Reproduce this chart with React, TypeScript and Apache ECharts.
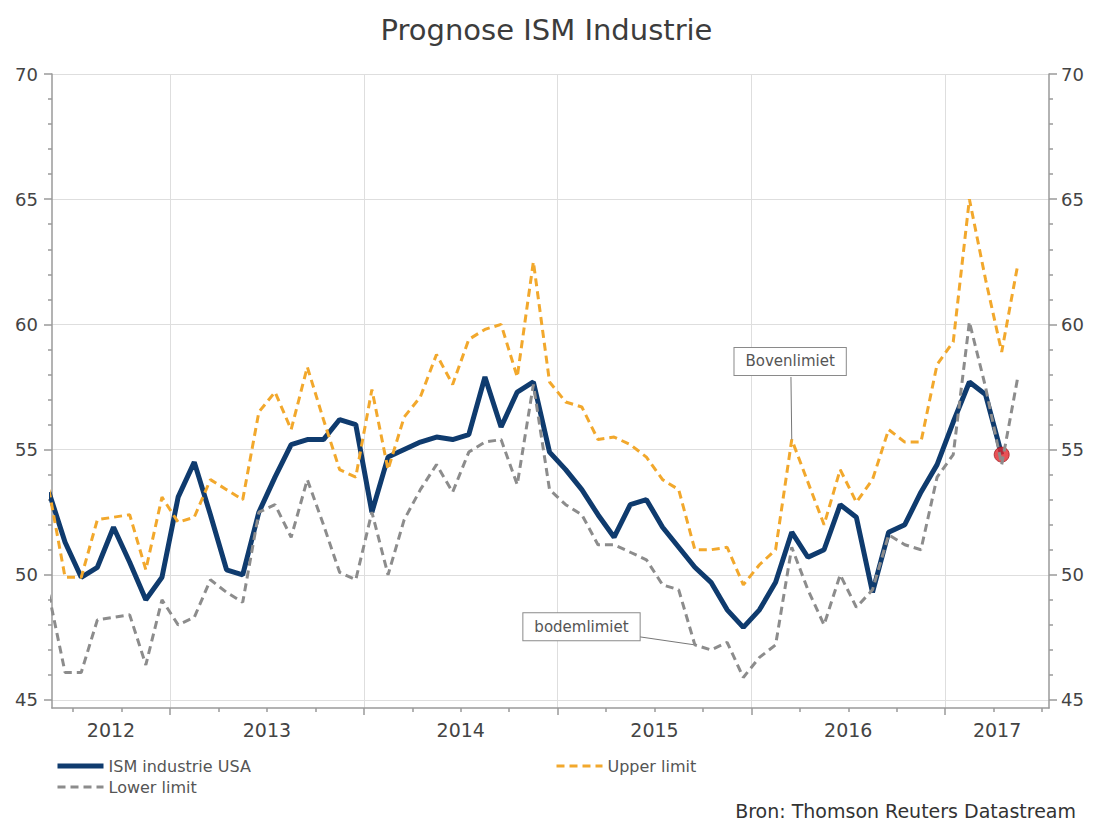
import React, { useEffect, useRef } from 'react';
import * as echarts from 'echarts';

// Monthly observations, May 2012 – May 2017
const months = [
  '2012-05', '2012-06', '2012-07', '2012-08', '2012-09', '2012-10', '2012-11', '2012-12',
  '2013-01', '2013-02', '2013-03', '2013-04', '2013-05', '2013-06', '2013-07', '2013-08', '2013-09', '2013-10', '2013-11', '2013-12',
  '2014-01', '2014-02', '2014-03', '2014-04', '2014-05', '2014-06', '2014-07', '2014-08', '2014-09', '2014-10', '2014-11', '2014-12',
  '2015-01', '2015-02', '2015-03', '2015-04', '2015-05', '2015-06', '2015-07', '2015-08', '2015-09', '2015-10', '2015-11', '2015-12',
  '2016-01', '2016-02', '2016-03', '2016-04', '2016-05', '2016-06', '2016-07', '2016-08', '2016-09', '2016-10', '2016-11', '2016-12',
  '2017-01', '2017-02', '2017-03', '2017-04', '2017-05',
];

// ISM manufacturing index (ends April 2017)
const ismIndustrie = [
  53.3, 51.3, 49.9, 50.3, 51.9, 50.5, 49.0, 49.9,
  53.1, 54.5, 52.4, 50.2, 50.0, 52.5, 53.9, 55.2, 55.4, 55.4, 56.2, 56.0,
  52.5, 54.7, 55.0, 55.3, 55.5, 55.4, 55.6, 57.9, 55.9, 57.3, 57.7, 54.9,
  54.2, 53.4, 52.4, 51.5, 52.8, 53.0, 51.9, 51.1, 50.3, 49.7, 48.6, 47.9,
  48.6, 49.7, 51.7, 50.7, 51.0, 52.8, 52.3, 49.3, 51.7, 52.0, 53.3, 54.4,
  56.1, 57.7, 57.2, 54.8,
];

const upperLimit = [
  53.4, 49.9, 49.9, 52.2, 52.3, 52.4, 50.2, 53.1,
  52.1, 52.3, 53.8, 53.4, 53.0, 56.5, 57.3, 55.8, 58.3, 56.2, 54.2, 53.9,
  57.4, 54.2, 56.3, 57.1, 58.8, 57.6, 59.4, 59.8, 60.0, 57.9, 62.5, 57.7,
  56.9, 56.7, 55.4, 55.5, 55.2, 54.7, 53.8, 53.4, 51.0, 51.0, 51.1, 49.6,
  50.4, 51.0, 55.4, 53.7, 52.0, 54.2, 52.9, 53.8, 55.8, 55.3, 55.3, 58.4,
  59.3, 65.0, 61.8, 58.9, 62.4,
];

const lowerLimit = [
  49.2, 46.1, 46.1, 48.2, 48.3, 48.4, 46.4, 49.0,
  48.0, 48.3, 49.8, 49.3, 48.9, 52.5, 52.8, 51.5, 53.8, 52.0, 50.1, 49.8,
  52.5, 50.0, 52.2, 53.4, 54.4, 53.3, 54.9, 55.3, 55.4, 53.6, 57.6, 53.4,
  52.8, 52.4, 51.2, 51.2, 50.9, 50.6, 49.6, 49.4, 47.2, 47.0, 47.3, 45.9,
  46.7, 47.2, 51.1, 49.4, 48.0, 50.0, 48.7, 49.4, 51.6, 51.2, 51.0, 53.9,
  54.8, 60.1, 57.5, 54.4, 57.9,
];

const yearLabels = ['2012', '2013', '2014', '2015', '2016', '2017'];
const yMajorTicks = [45, 50, 55, 60, 65, 70];

// x is measured in months since January 2012; each month is plotted at its middle
const BASE_YEAR = 2012;
const toX = (ym: string) => {
  const [y, m] = ym.split('-').map(Number);
  return (y - BASE_YEAR) * 12 + (m - 1) + 0.5;
};

const X_MIN = 4.69;
const X_MAX = 66.43;
const Y_MIN = 44.68;
const Y_MAX = 70;

const FONT = 'DejaVu Sans';
const AXIS_COLOR = '#9a9a9a';
const GRID_COLOR = '#dedede';
const NAVY = '#0f3b6e';
const ORANGE = '#f2a82c';
const GREY = '#8c8c8c';

export default function App() {
  const ref = useRef<HTMLDivElement>(null);

  useEffect(() => {
    document.body.style.margin = '0';
    if (!ref.current) return;
    const chart = echarts.init(ref.current, undefined, { renderer: 'svg' });

    const ismData = ismIndustrie.map((v, i) => [toX(months[i]), v]);
    const upperData = upperLimit.map((v, i) => [toX(months[i]), v]);
    const lowerData = lowerLimit.map((v, i) => [toX(months[i]), v]);
    const lastIdx = ismIndustrie.length - 1;

    // Year boundaries and quarter boundaries inside the visible range
    const yearTicks: number[] = [];
    const quarterTicks: number[] = [];
    for (let t = Math.ceil(X_MIN / 3) * 3; t <= X_MAX; t += 3) {
      if (t % 12 === 0) yearTicks.push(t);
      else quarterTicks.push(t);
    }
    // Year labels sit in the middle of the visible part of each year
    const yearLabelPos = yearLabels.map((_, i) => {
      const a = Math.max(i * 12, X_MIN);
      const b = Math.min((i + 1) * 12, X_MAX);
      return (a + b) / 2;
    });
    const yMinorTicks: number[] = [];
    for (let v = Math.ceil(Y_MIN); v <= Y_MAX; v++) if (v % 5 !== 0) yMinorTicks.push(v);

    const annotationLabel = {
      show: true,
      position: 'inside',
      color: '#555',
      fontSize: 15,
      fontFamily: FONT,
      backgroundColor: '#ffffff',
      borderColor: '#8a8a8a',
      borderWidth: 1,
      padding: [6, 11, 6, 11],
    };

    const majorY = (position: 'left' | 'right', withSplit: boolean) => ({
      type: 'value',
      min: Y_MIN,
      max: Y_MAX,
      position,
      axisLine: { show: true, onZero: false, lineStyle: { color: AXIS_COLOR, width: 1.5 } },
      axisTick: { show: true, customValues: yMajorTicks, length: 8, lineStyle: { color: AXIS_COLOR, width: 1.5 } },
      axisLabel: {
        show: true,
        customValues: yMajorTicks,
        margin: position === 'left' ? 14 : 12,
        fontSize: 18,
        color: '#444',
        fontFamily: FONT,
      },
      splitLine: { show: withSplit, lineStyle: { color: GRID_COLOR, width: 1 } },
    });
    const minorY = (position: 'left' | 'right') => ({
      type: 'value',
      min: Y_MIN,
      max: Y_MAX,
      position,
      axisLine: { show: false },
      axisTick: { show: true, customValues: yMinorTicks, length: 4, lineStyle: { color: AXIS_COLOR, width: 1.5 } },
      axisLabel: { show: false },
      splitLine: { show: false },
    });

    // Legend entries show the line only, without a marker
    const legendBase = {
      itemWidth: 46,
      itemHeight: 14,
      itemStyle: { color: 'rgba(0,0,0,0)', borderColor: 'rgba(0,0,0,0)', borderWidth: 0 },
      textStyle: { fontSize: 16, color: '#555', fontFamily: FONT },
    };

    chart.setOption({
      animation: false,
      textStyle: { fontFamily: FONT },
      title: [
        {
          text: 'Prognose ISM Industrie',
          left: 'center',
          top: 10,
          textStyle: { fontSize: 29, fontWeight: 'normal', color: '#3c3c3c', fontFamily: FONT },
        },
        {
          text: 'Bron: Thomson Reuters Datastream',
          right: 12,
          top: 796,
          textStyle: { fontSize: 19, fontWeight: 'normal', color: '#333', fontFamily: FONT },
        },
      ],
      grid: { left: 52, right: 44, top: 74, bottom: 114, containLabel: false, outerBoundsMode: 'none' },
      legend: [
        {
          ...legendBase,
          data: [
            { name: 'ISM industrie USA', lineStyle: { width: 5 } },
            { name: 'Lower limit', lineStyle: { width: 3 } },
          ],
          orient: 'vertical',
          left: 50,
          top: 753,
          itemGap: 5,
        },
        {
          ...legendBase,
          data: [{ name: 'Upper limit', lineStyle: { width: 3 } }],
          left: 550,
          top: 753,
        },
      ],
      xAxis: [
        {
          type: 'value',
          min: X_MIN,
          max: X_MAX,
          position: 'bottom',
          axisLine: { show: true, onZero: false, lineStyle: { color: AXIS_COLOR, width: 1.5 } },
          axisTick: { show: true, customValues: yearTicks, length: 7, lineStyle: { color: AXIS_COLOR, width: 1.5 } },
          axisLabel: {
            show: true,
            customValues: yearLabelPos,
            formatter: (v: number) => yearLabels[Math.floor(v / 12)] ?? '',
            margin: 12,
            fontSize: 19,
            color: '#444',
            fontFamily: FONT,
          },
          splitLine: { show: true, lineStyle: { color: GRID_COLOR, width: 1 } },
        },
        {
          type: 'value',
          min: X_MIN,
          max: X_MAX,
          position: 'bottom',
          axisLine: { show: false, onZero: false },
          axisTick: { show: true, customValues: quarterTicks, length: 4, lineStyle: { color: AXIS_COLOR, width: 1.5 } },
          axisLabel: { show: false },
          splitLine: { show: false },
        },
      ],
      yAxis: [majorY('left', true), minorY('left'), majorY('right', false), minorY('right')],
      series: [
        {
          name: 'ISM industrie USA',
          type: 'line',
          xAxisIndex: 0,
          yAxisIndex: 0,
          data: ismData,
          symbol: 'none',
          lineStyle: { color: NAVY, width: 5 },
          itemStyle: { color: NAVY },
          z: 2,
        },
        {
          type: 'scatter',
          xAxisIndex: 0,
          yAxisIndex: 0,
          data: [[toX(months[lastIdx]), ismIndustrie[lastIdx]]],
          symbol: 'circle',
          symbolSize: 15,
          itemStyle: { color: '#e3262c', borderColor: '#a11c21', borderWidth: 1 },
          z: 3,
        },
        {
          name: 'Upper limit',
          type: 'line',
          xAxisIndex: 0,
          yAxisIndex: 0,
          data: upperData,
          symbol: 'none',
          lineStyle: { color: ORANGE, width: 3, type: [8, 5] },
          itemStyle: { color: ORANGE },
          z: 4,
          markLine: {
            silent: true,
            symbol: ['none', 'none'],
            label: { show: false },
            lineStyle: { color: '#777', width: 1, type: 'solid' },
            data: [[{ coord: [50.45, 57.9] }, { coord: [50.5, 55.4] }]],
          },
          markPoint: {
            silent: true,
            symbol: 'rect',
            symbolSize: 1,
            itemStyle: { color: 'rgba(0,0,0,0)' },
            label: { ...annotationLabel, formatter: 'Bovenlimiet' },
            data: [{ name: 'Bovenlimiet', coord: [50.4, 58.52] }],
          },
        },
        {
          name: 'Lower limit',
          type: 'line',
          xAxisIndex: 0,
          yAxisIndex: 0,
          data: lowerData,
          symbol: 'none',
          lineStyle: { color: GREY, width: 3, type: [8, 5] },
          itemStyle: { color: GREY },
          z: 5,
          markLine: {
            silent: true,
            symbol: ['none', 'none'],
            label: { show: false },
            lineStyle: { color: '#777', width: 1, type: 'solid' },
            data: [[{ coord: [41.1, 47.52] }, { coord: [44.5, 47.2] }]],
          },
          markPoint: {
            silent: true,
            symbol: 'rect',
            symbolSize: 1,
            itemStyle: { color: 'rgba(0,0,0,0)' },
            label: { ...annotationLabel, formatter: 'bodemlimiet' },
            data: [{ name: 'bodemlimiet', coord: [37.48, 47.92] }],
          },
        },
      ],
    });

    return () => chart.dispose();
  }, []);

  return <div ref={ref} style={{ width: 1093, height: 822 }} />;
}
